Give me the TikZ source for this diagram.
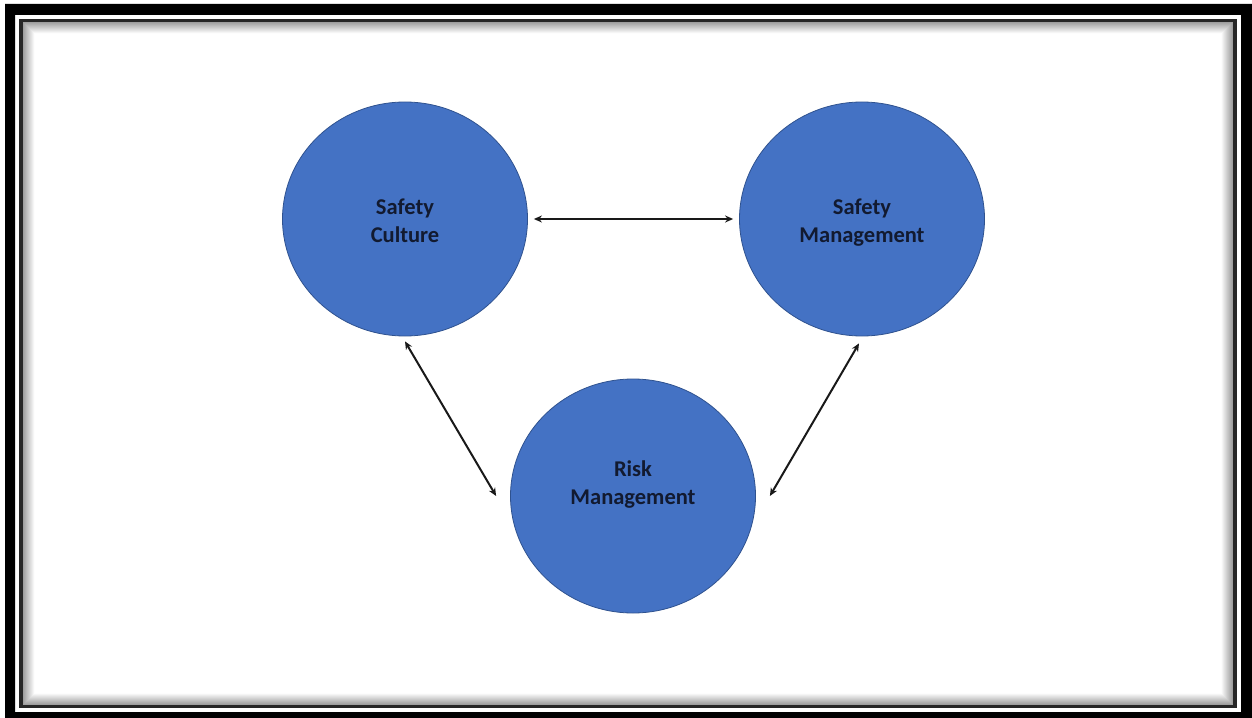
\documentclass[tikz,border=0pt]{standalone}
\usepackage{fontspec}
\setmainfont{Carlito}
\usetikzlibrary{shapes.geometric,arrows.meta}
\definecolor{discblue}{RGB}{68,114,196}
\definecolor{discedge}{RGB}{47,82,143}
\definecolor{labelink}{RGB}{18,26,48}
\tikzset{
  disc/.style={ellipse, fill=discblue, draw=discedge, line width=0.8bp,
    minimum width=245bp, minimum height=234bp, inner sep=0pt,
    text height=50bp, text depth=4bp,
    align=center, text=labelink, font=\fontsize{22.6}{28}\selectfont\bfseries},
  link/.style={line width=2bp, draw=black!90,
    {Stealth[length=8bp,width=7bp]}-{Stealth[length=8bp,width=7bp]}}
}
\begin{document}
\begin{tikzpicture}[x=1bp,y=-1bp]
  \useasboundingbox (0,0) rectangle (1252,718);
  \fill[white] (0,0) rectangle (1252,718);
  % heavy outer frame
  \fill[black, even odd rule] (5,4) rectangle (1252,718) (15,15) rectangle (1241,712);
  % inner frame with soft inner shadow fading towards the middle
  \fill[white] (23,22) rectangle (1233,705);
  \foreach \i in {0,...,11} {
    \pgfmathsetmacro{\shade}{max(0,38-3.4*\i)}
    \draw[black!\shade!white, line width=1.1bp]
      (23.5+\i,22.5+\i) rectangle (1232.5-\i,704.5-\i);
  }
  \draw[black!85, line width=3.5bp] (21,20.5) rectangle (1235,706.5);

  % the three discs
  \node[disc] (sc) at (405,219) {Safety\\Culture};
  \node[disc] (sm) at (862,219) {Safety\\Management};
  \node[disc, text height=20bp] (rm) at (633,496) {Risk\\Management};

  % two-way links
  \draw[link] ([xshift=6bp]sc.east) -- ([xshift=-6bp]sm.west);
  \draw[link] ([yshift=-5bp]sc.south) -- ([xshift=-14bp]rm.west);
  \draw[link] ([xshift=-3bp,yshift=-7bp]sm.south) -- ([xshift=14bp]rm.east);
\end{tikzpicture}
\end{document}
